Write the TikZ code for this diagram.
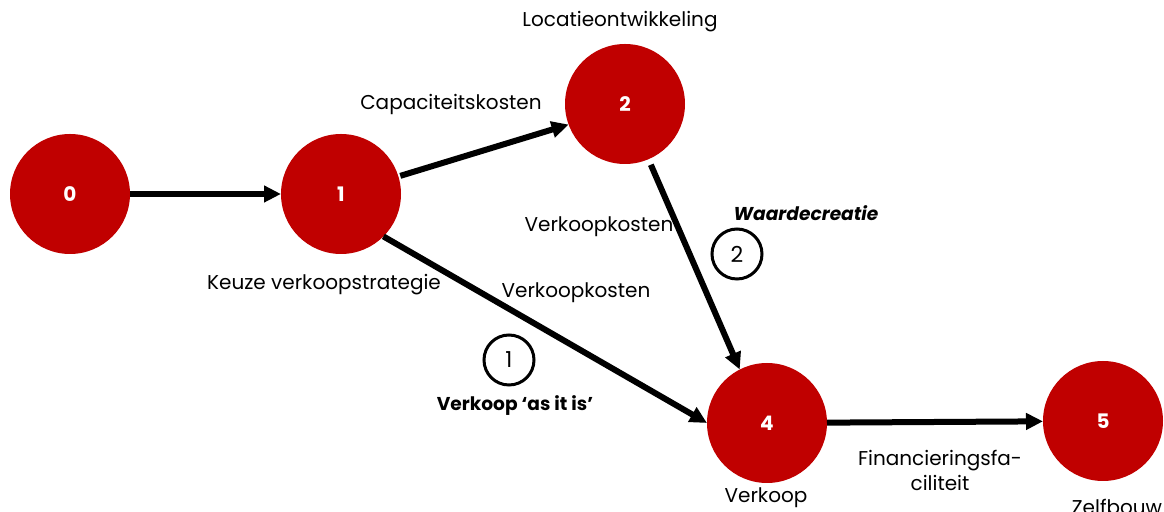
\documentclass[tikz,border=0pt]{standalone}
\usepackage{fontspec}
\setmainfont{Poppins}
\usetikzlibrary{arrows.meta,positioning}
\definecolor{nodered}{HTML}{C00000}

\begin{document}
\begin{tikzpicture}[x=0.5pt,y=-0.5pt]
      \useasboundingbox (0,0) rectangle (1164,512);
      \begin{scope}[every node/.style={circle,fill=nodered,minimum size=60pt,inner sep=0pt,outer sep=0pt,
          text=white,font=\bfseries\fontsize{10}{12}\selectfont}]
        \node (n0) at (70,194) {0};
        \node (n1) at (341,194) {1};
        \node (n2) at (625,104) {2};
        \node (n4) at (767,423) {4};
        \node (n5) at (1103,421) {5};
      \end{scope}
      \begin{scope}
        [every edge/.style={draw=black,line width=3pt,-{Triangle[length=8.5pt,width=8pt]}}]
        \path (n0) edge (n1);
        \path (n1.17) edge[shorten <=1pt] (n2.200);
        \path (n1.-45) edge (n4.west);
        \path (n2.-67) edge[shorten <=3pt] (n4.117);
        \path (n4) edge (n5);
      \end{scope}
      \begin{scope}[every node/.style={font=\fontsize{10}{12.5}\selectfont}]
        \node (lokatie) at (620,22) {Locatieontwikkeling};
        \node (capkost) at (451,104) {Capaciteitskosten};
        \node (verkost2) at (599,227) {Verkoopkosten};
        \node (keuze) at (324,285) {Keuze verkoopstrategie};
        \node (verkost1) at (576,293) {Verkoopkosten};
        \node (verkoop) at (766,498) {Verkoop};
        \node (financ) [align=center] at (940,470) {Financieringsfa-\\ciliteit};
        \node (zelfbouw) at (1117,507) {Zelfbouw};
        \node (waarde) at (806,213) {\bfseries\itshape\fontsize{9.3}{11}\selectfont Waardecreatie};
        \node (asitis) at (515,406) {\bfseries\fontsize{9.3}{11}\selectfont Verkoop ‘as it is’};
      \end{scope}
      \begin{scope}[every node/.style={circle,draw,line width=1.5pt,minimum size=25pt,inner sep=0pt,
          font=\fontsize{11}{13}\selectfont}]
        \node (route1) at (509,360) {1};
        \node (route2) at (737,254) {2};
      \end{scope}
    \end{tikzpicture}
\end{document}
